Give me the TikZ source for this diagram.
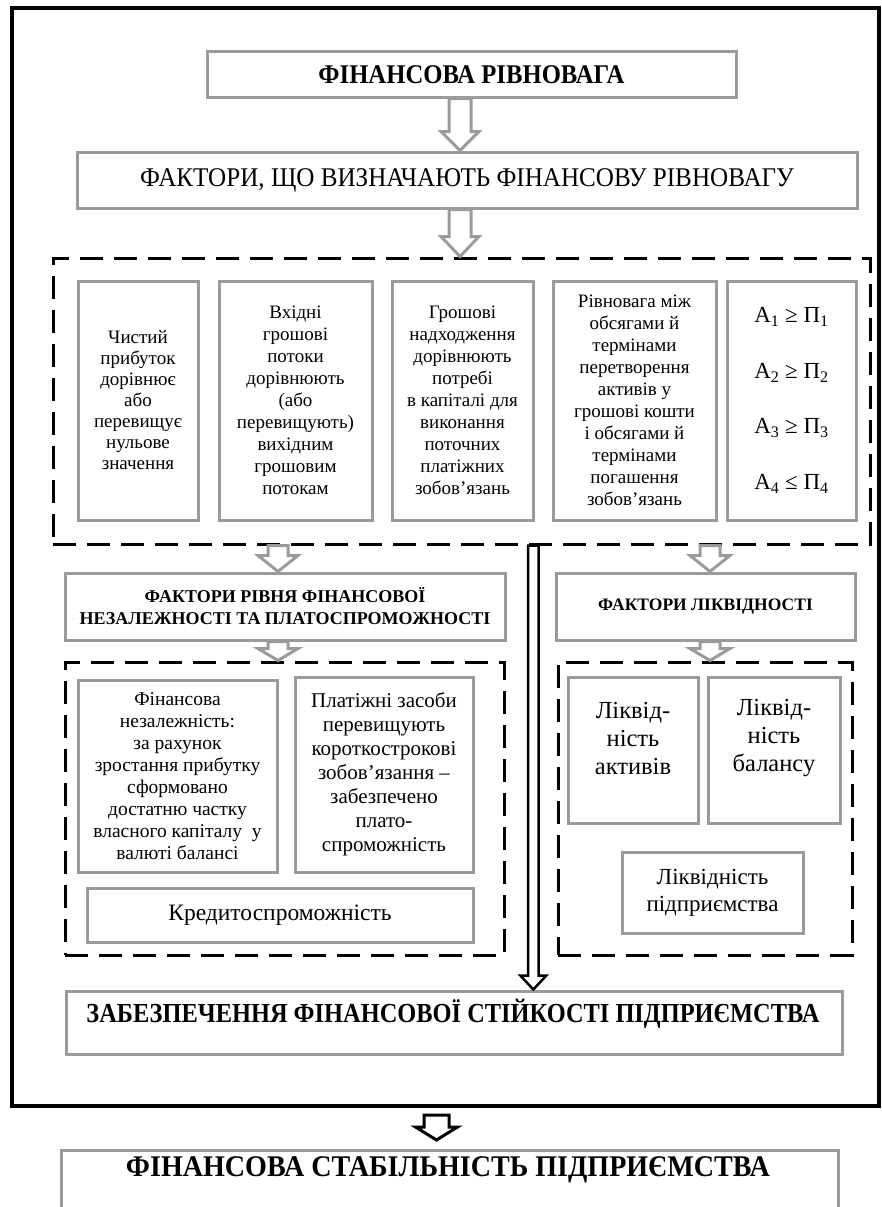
\documentclass[tikz,border=0pt]{standalone}
\usepackage{fontspec}
\setmainfont{Liberation Serif}
\usepackage{graphicx}
\usetikzlibrary{calc}
\definecolor{gline}{RGB}{155,155,155}
\newcommand{\fitw}[2]{\resizebox{#1}{\height}{#2}}
\newcommand{\hollowarr}[6]{%
  \draw[#1] let \p1=#2, \p2=#3 in
    (\x1-#4,\y1) -- (\x1+#4,\y1) -- (\x1+#4,\y2+#6) -- (\x1+#5,\y2+#6) -- (\x1,\y2)
    -- (\x1-#5,\y2+#6) -- (\x1-#4,\y2+#6) -- cycle;}
\begin{document}
\begin{tikzpicture}[x=1pt,y=-1pt,
  framebox/.style={draw=black, line width=4.5pt, rectangle, inner sep=0pt},
  gbox/.style={draw=gline, line width=3pt, fill=white, rectangle, inner sep=0pt, align=center},
  dbox/.style={draw=black, line width=3pt, dash pattern=on 23pt off 11pt, rectangle, inner sep=0pt},
  txt/.style={align=center, inner sep=0pt},
  body/.style={font=\fontsize{19}{22}\selectfont},
  garrow/.style={draw=gline, line width=3pt, fill=white, line join=miter},
  barrow/.style={draw=black, line width=2.5pt, fill=white, line join=miter},
  barrowb/.style={draw=black, line width=3pt, fill=white, line join=miter}]
\useasboundingbox (0,0) rectangle (882,1207);
\clip (0,0) rectangle (882,1207);
\fill[white] (0,0) rectangle (882,1207);

\node[framebox, minimum width=867pt, minimum height=1098pt] (frame) at (445.5,557) {};

\node[gbox, minimum width=529pt, minimum height=45pt, font=\fontsize{27}{30}\selectfont\bfseries] (top) at (471.5,74.5) {\fitw{306pt}{ФІНАНСОВА РІВНОВАГА}};
\node[gbox, minimum width=780pt, minimum height=56pt, font=\fontsize{27}{30}\selectfont] (fact) at (467,180) {\fitw{654pt}{ФАКТОРИ, ЩО ВИЗНАЧАЮТЬ ФІНАНСОВУ РІВНОВАГУ}};

\node[dbox, minimum width=817pt, minimum height=286pt] (bigdash) at (461.5,401) {};

\node[gbox, body, minimum width=120pt, minimum height=239pt, font=\fontsize{19}{21}\selectfont] (b1) at (138,400.5) {Чистий\\прибуток\\дорівнює\\або\\перевищує\\нульове\\значення};
\node[gbox, body, minimum width=153pt, minimum height=239pt] (b2) at (295.5,400.5) {Вхідні\\грошові\\потоки\\дорівнюють\\(або\\перевищують)\\вихідним\\грошовим\\потокам};
\node[gbox, body, minimum width=141pt, minimum height=239pt] (b3) at (462.5,400.5) {Грошові\\надходження\\дорівнюють\\потребі\\в капіталі для\\виконання\\поточних\\платіжних\\зобов’язань};
\node[gbox, body, minimum width=163pt, minimum height=239pt] (b4) at (634.5,400.5) {Рівновага між\\обсягами й\\термінами\\перетворення\\активів у\\грошові кошти\\і обсягами й\\термінами\\погашення\\зобов’язань};
\node[gbox, minimum width=129pt, minimum height=239pt, font=\fontsize{23}{55.5}\selectfont] (b5) at (791.5,400.5) {А\textsubscript{1} ≥ П\textsubscript{1}\\А\textsubscript{2} ≥ П\textsubscript{2}\\А\textsubscript{3} ≥ П\textsubscript{3}\\А\textsubscript{4} ≤ П\textsubscript{4}};

\node[gbox, minimum width=440pt, minimum height=67pt, font=\fontsize{18}{22}\selectfont\bfseries] (lhead) at (285,606.5) {ФАКТОРИ РІВНЯ ФІНАНСОВОЇ\\НЕЗАЛЕЖНОСТІ ТА ПЛАТОСПРОМОЖНОСТІ};
\node[gbox, minimum width=299pt, minimum height=67pt, font=\fontsize{17.5}{21}\selectfont\bfseries] (rhead) at (705.5,606.5) {ФАКТОРИ ЛІКВІДНОСТІ};

\node[dbox, minimum width=439pt, minimum height=293pt] (ldash) at (284.5,808.5) {};
\node[dbox, minimum width=294pt, minimum height=293pt] (rdash) at (705,808.5) {};

\node[gbox, minimum width=199pt, minimum height=192pt, font=\fontsize{19.5}{22}\selectfont] (fin) at (177.5,776) {Фінансова\\незалежність:\\за рахунок\\зростання прибутку\\сформовано\\достатню частку\\власного капіталу~~у\\валюті балансі};
\node[gbox, minimum width=178pt, minimum height=195pt, font=\fontsize{21}{24}\selectfont] (plat) at (384,774.5) {Платіжні засоби\\перевищують\\короткострокові\\зобов’язання –\\забезпечено\\плато-\\спроможність};
\node[gbox, minimum width=386pt, minimum height=54pt, font=\fontsize{23.5}{27}\selectfont] (kred) at (280,915) {Кредитоспроможність};

\node[gbox, minimum width=130pt, minimum height=146pt] (la) at (633,750) {};
\node[txt, font=\fontsize{24.5}{28}\selectfont] (latx) at (633,738) {Ліквід-\\ність\\активів};
\node[gbox, minimum width=132pt, minimum height=146pt] (lb) at (774,750) {};
\node[txt, font=\fontsize{24.5}{28}\selectfont] (lbtx) at (774,738) {Ліквід-\\ність\\балансу};
\node[gbox, minimum width=181pt, minimum height=81pt, font=\fontsize{23}{27}\selectfont] (lp) at (712.5,892.5) {Ліквідність\\підприємства};

\node[gbox, minimum width=776pt, minimum height=63pt] (zab) at (454,1022.5) {};
\node[txt, font=\fontsize{27.5}{30}\selectfont\bfseries] (zabtx) at (453,1014) {\fitw{733pt}{ЗАБЕЗПЕЧЕННЯ ФІНАНСОВОЇ СТІЙКОСТІ ПІДПРИЄМСТВА}};

\node[gbox, minimum width=777pt, minimum height=80pt] (fin2) at (449.5,1190) {};
\node[txt, font=\fontsize{30}{33}\selectfont\bfseries] (fin2tx) at (448,1170) {\fitw{644pt}{ФІНАНСОВА СТАБІЛЬНІСТЬ ПІДПРИЄМСТВА}};

% arrows
\coordinate (ax1) at (460,0);
\coordinate (ax2) at (278,0);
\coordinate (ax3) at (533.3,0);
\coordinate (ax4) at (710,0);
\coordinate (fa1) at (436.5,1115);
\coordinate (fa2) at (436.5,1140);

\hollowarr{garrow}{(top.south -| ax1)}{(fact.north -| ax1)}{11pt}{19pt}{19pt}
\hollowarr{garrow}{(fact.south -| ax1)}{(bigdash.north -| ax1)}{11pt}{19pt}{20pt}
\hollowarr{garrow}{(bigdash.south -| ax2)}{(lhead.north -| ax2)}{10pt}{20pt}{16pt}
\hollowarr{garrow}{(lhead.south -| ax2)}{(ldash.north -| ax2)}{10pt}{20pt}{12pt}
\hollowarr{garrow}{(bigdash.south -| ax4)}{(rhead.north -| ax4)}{10pt}{20pt}{16pt}
\hollowarr{garrow}{(rhead.south -| ax4)}{(rdash.north -| ax4)}{10pt}{20pt}{12pt}
\hollowarr{barrow}{(bigdash.south -| ax3)}{(zab.north -| ax3)}{5.25pt}{13pt}{14pt}
\hollowarr{barrowb}{(fa1)}{(fa2)}{12.5pt}{21pt}{13pt}
\end{tikzpicture}
\end{document}
